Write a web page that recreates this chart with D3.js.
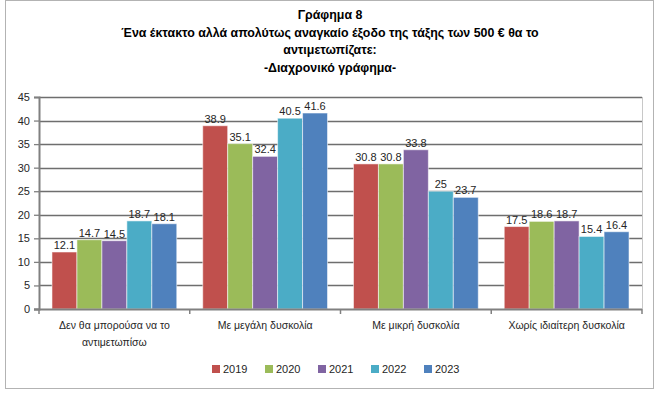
<!DOCTYPE html>
<html>
<head>
<meta charset="utf-8">
<script src="https://cdn.jsdelivr.net/npm/d3@7"></script>
<style>
  body { margin: 0; background: #fff; }
  svg { display: block; font-family: "Liberation Sans", sans-serif; }
</style>
</head>
<body>
<div id="chart"></div>
<script>
const categories = [
  ['Δεν θα μπορούσα να το', 'αντιμετωπίσω'],
  ['Με μεγάλη δυσκολία'],
  ['Με μικρή δυσκολία'],
  ['Χωρίς ιδιαίτερη δυσκολία']
];
const years = ['2019', '2020', '2021', '2022', '2023'];
const values2019 = [12.1, 38.9, 30.8, 17.5];
const values2020 = [14.7, 35.1, 30.8, 18.6];
const values2021 = [14.5, 32.4, 33.8, 18.7];
const values2022 = [18.7, 40.5, 25, 15.4];
const values2023 = [18.1, 41.6, 23.7, 16.4];
const yTicks = [0, 5, 10, 15, 20, 25, 30, 35, 40, 45];
const titleLines = [
  'Γράφημα 8',
  'Ένα έκτακτο αλλά απολύτως αναγκαίο έξοδο της τάξης των 500 € θα το',
  'αντιμετωπίζατε:',
  '-Διαχρονικό γράφημα-'
];
const colors = ['#C0504D', '#9BBB59', '#8064A2', '#4BACC6', '#4F81BD'];

const series = [values2019, values2020, values2021, values2022, values2023];
const catKeys = categories.map(c => c.join(' '));

const W = 660, H = 397;
const margin = { top: 97, right: 18, bottom: 88, left: 39 };
const width = W - margin.left - margin.right;
const height = H - margin.top - margin.bottom;

const svg = d3.select('#chart').append('svg')
  .attr('width', W)
  .attr('height', H);

// outer frame
svg.append('rect')
  .attr('x', 5.5).attr('y', 0.5)
  .attr('width', 648).attr('height', 388)
  .attr('fill', '#fff')
  .attr('stroke', '#b3b3b3');

// title
svg.append('g')
  .selectAll('text')
  .data(titleLines)
  .enter()
  .append('text')
  .attr('x', 330)
  .attr('y', (d, i) => 19 + i * 17.6)
  .attr('text-anchor', 'middle')
  .style('font-weight', 'bold')
  .style('font-size', '12.4px')
  .style('fill', '#000')
  .text(d => d);

const g = svg.append('g')
  .attr('transform', `translate(${margin.left},${margin.top})`);

const x0 = d3.scaleBand().domain(catKeys).range([0, width]).padding(0);
const x1 = d3.scaleBand().domain(years).range([0, x0.bandwidth()]).paddingInner(0).paddingOuter(0.52);
const y = d3.scaleLinear().domain([0, 45]).range([height, 0]);

// gridlines
g.append('g')
  .selectAll('line')
  .data(yTicks.slice(1))
  .enter()
  .append('line')
  .attr('x1', 0).attr('x2', width)
  .attr('y1', d => Math.round(y(d)) + 0.5)
  .attr('y2', d => Math.round(y(d)) + 0.5)
  .attr('stroke', '#6e6e6e')
  .attr('stroke-width', 1.3);

// right border of plot area
g.append('line')
  .attr('x1', width + 0.5).attr('x2', width + 0.5)
  .attr('y1', 0).attr('y2', height)
  .attr('stroke', '#c8c8c8');

// bars
const groups = g.append('g')
  .selectAll('g')
  .data(catKeys)
  .enter()
  .append('g')
  .attr('transform', d => `translate(${x0(d)},0)`);

groups.selectAll('rect')
  .data((d, ci) => years.map((yr, si) => ({ yr, v: series[si][ci], si })))
  .enter()
  .append('rect')
  .attr('x', d => x1(d.yr))
  .attr('y', d => y(d.v))
  .attr('width', x1.bandwidth())
  .attr('height', d => height - y(d.v))
  .attr('fill', d => colors[d.si])
  .attr('stroke', 'rgba(255,255,255,0.55)')
  .attr('stroke-width', 1);

groups.selectAll('text')
  .data((d, ci) => years.map((yr, si) => ({ yr, v: series[si][ci], si })))
  .enter()
  .append('text')
  .attr('x', d => x1(d.yr) + x1.bandwidth() / 2)
  .attr('y', d => y(d.v) - 3)
  .attr('text-anchor', 'middle')
  .style('font-size', '11px')
  .style('fill', '#262626')
  .text(d => d.v);

// y axis
const yAxis = g.append('g')
  .call(d3.axisLeft(y).tickValues(yTicks).tickSize(5).tickPadding(4));
yAxis.select('.domain').attr('stroke', '#808080').attr('stroke-width', 2);
yAxis.selectAll('.tick line').attr('stroke', '#808080').attr('stroke-width', 1.3);
yAxis.selectAll('text').style('font-size', '11px').style('fill', '#262626')
  .style('font-family', '"Liberation Sans", sans-serif');

// x axis
const xAxis = g.append('g')
  .attr('transform', `translate(0,${height})`);
xAxis.append('line')
  .attr('x1', -5).attr('x2', width)
  .attr('y1', 0.5).attr('y2', 0.5)
  .attr('stroke', '#808080')
  .attr('stroke-width', 2);
xAxis.selectAll('line.tk')
  .data(d3.range(catKeys.length + 1))
  .enter()
  .append('line')
  .attr('class', 'tk')
  .attr('x1', i => i * x0.step()).attr('x2', i => i * x0.step())
  .attr('y1', 0).attr('y2', 5)
  .attr('stroke', '#808080')
  .attr('stroke-width', 1.5);

const catLabels = xAxis.selectAll('text.cat')
  .data(categories)
  .enter()
  .append('text')
  .attr('class', 'cat')
  .attr('x', (d, i) => x0(catKeys[i]) + x0.bandwidth() / 2)
  .attr('y', 20)
  .attr('text-anchor', 'middle')
  .style('font-size', '10.5px')
  .style('fill', '#262626');
catLabels.selectAll('tspan')
  .data(d => d)
  .enter()
  .append('tspan')
  .attr('x', function () { return d3.select(this.parentNode).attr('x'); })
  .attr('dy', (d, i) => i === 0 ? 0 : 17)
  .text(d => d);

// legend
const legendX = [212, 265, 318, 371, 424];
const legend = svg.append('g')
  .selectAll('g')
  .data(years)
  .enter()
  .append('g')
  .attr('transform', (d, i) => `translate(${legendX[i]},365)`);
legend.append('rect')
  .attr('width', 8).attr('height', 8)
  .attr('fill', (d, i) => colors[i]);
legend.append('text')
  .attr('x', 11).attr('y', 8)
  .style('font-size', '11px')
  .style('fill', '#262626')
  .text(d => d);
</script>
</body>
</html>
